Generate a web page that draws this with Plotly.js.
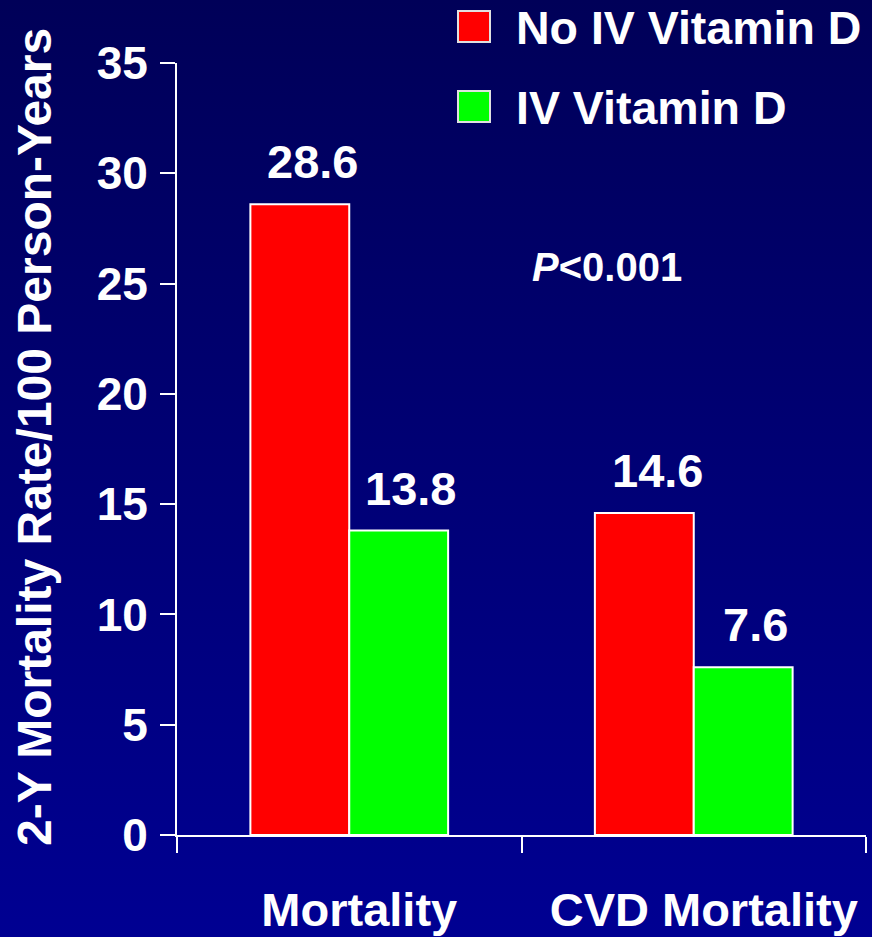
<!DOCTYPE html>
<html>
<head>
<meta charset="utf-8">
<script src="https://cdn.plot.ly/plotly-3.0.1.min.js"></script>
<style>
  html, body { margin: 0; padding: 0; }
  #chart { width: 872px; height: 937px; background: linear-gradient(to bottom, #000058 0%, #000092 100%); }
</style>
</head>
<body>
<div id="chart"></div>
<script>
const categories = ["Mortality", "CVD Mortality"];
const seriesNames = ["No IV Vitamin D", "IV Vitamin D"];
const noIV = [28.6, 14.6];
const iv = [13.8, 7.6];
const yTicks = [0, 5, 10, 15, 20, 25, 30, 35];
const yTitle = "2-Y Mortality Rate/100 Person-Years";
const pText = "<i>P</i>&lt;0.001";

const FONT = "Liberation Sans, Arial, sans-serif";
const RED = "#ff0000", GREEN = "#00ff00";

const traces = [
  { type: "bar", name: seriesNames[0], x: categories, y: noIV, marker: { color: RED, line: { color: "#ffffff", width: 2 } }, showlegend: false, hoverinfo: "skip" },
  { type: "bar", name: seriesNames[1], x: categories, y: iv, marker: { color: GREEN, line: { color: "#ffffff", width: 2 } }, showlegend: false, hoverinfo: "skip" }
];

const annotations = [];
const halfBar = 49.5;
categories.forEach((c, i) => {
  annotations.push({ x: c, y: noIV[i], xref: "x", yref: "y", text: String(noIV[i]), showarrow: false, xanchor: "center", yanchor: "bottom", xshift: -halfBar + 13, yshift: 14, font: { family: FONT, size: 47, color: "#ffffff", weight: "bold" } });
  annotations.push({ x: c, y: iv[i], xref: "x", yref: "y", text: String(iv[i]), showarrow: false, xanchor: "center", yanchor: "bottom", xshift: halfBar + 12, yshift: 14, font: { family: FONT, size: 47, color: "#ffffff", weight: "bold" } });
});
annotations.push({ x: 0.624, y: 0.736, xref: "paper", yref: "paper", text: pText, showarrow: false, xanchor: "center", yanchor: "middle", font: { family: FONT, size: 40, color: "#ffffff", weight: "bold" } });
annotations.push({ x: 0, y: 0.5, xref: "paper", yref: "paper", text: yTitle, textangle: -90, showarrow: false, xanchor: "center", yanchor: "middle", xshift: -143, yshift: 12, font: { family: FONT, size: 48, color: "#ffffff", weight: "bold" } });

// legend (drawn manually to match large square swatches)
const W = 689, H = 772;
const legendRows = [{ name: seriesNames[0], color: RED, top: 11 }, { name: seriesNames[1], color: GREEN, top: 91 }];
const shapes = [];
legendRows.forEach(r => {
  shapes.push({ type: "rect", xref: "paper", yref: "paper", x0: (458 - 177) / W, x1: (490 - 177) / W, y0: (835 - r.top) / H, y1: (835 - r.top - 31) / H, fillcolor: r.color, line: { color: "#e0e0e0", width: 2 } });
  annotations.push({ x: (514 - 177) / W, y: (835 - r.top - 17) / H, xref: "paper", yref: "paper", text: r.name, showarrow: false, xanchor: "left", yanchor: "middle", font: { family: FONT, size: 46.5, color: "#ffffff", weight: "bold" } });
});

const layout = {
  width: 872, height: 937,
  margin: { l: 177, r: 6, t: 63, b: 102 },
  paper_bgcolor: "rgba(0,0,0,0)", plot_bgcolor: "rgba(0,0,0,0)",
  barmode: "group", bargap: 0.426, bargroupgap: 0,
  showlegend: false,
  font: { family: FONT, color: "#ffffff" },
  xaxis: {
    type: "category", showline: true, linecolor: "#ffffff", linewidth: 2,
    ticks: "outside", tickson: "boundaries", ticklen: 16, tickwidth: 2, tickcolor: "#ffffff",
    showgrid: false, zeroline: false,
    tickfont: { family: FONT, size: 47, color: "#ffffff", weight: "bold" },
    ticklabelstandoff: 33, ticklabelshift: 10
  },
  yaxis: {
    range: [0, 35], tickvals: yTicks, ticktext: yTicks.map(String),
    showline: true, linecolor: "#ffffff", linewidth: 2,
    ticks: "outside", ticklen: 15, tickwidth: 2, tickcolor: "#ffffff",
    showgrid: false, zeroline: false, ticklabelstandoff: 3,
    tickfont: { family: FONT, size: 46, color: "#ffffff", weight: "bold" }
  },
  annotations: annotations,
  shapes: shapes
};

Plotly.newPlot("chart", traces, layout, { staticPlot: true, displayModeBar: false });
</script>
</body>
</html>
